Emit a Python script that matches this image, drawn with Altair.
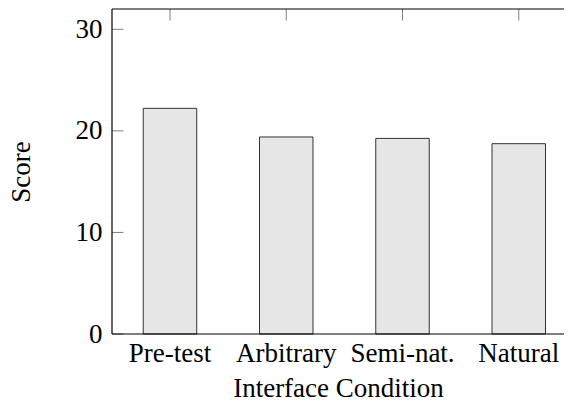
import altair as alt
import pandas as pd

categories = ["Pre-test", "Arbitrary", "Semi-nat.", "Natural"]
scores = [22.22, 19.40, 19.26, 18.74]
y_ticks = [0, 10, 20, 30]

FONT = "Liberation Serif"
FS = 27

bars_df = pd.DataFrame({"cond": categories, "score": scores})
ticks_df = pd.DataFrame({"v": y_ticks})
one_df = pd.DataFrame({"k": [0]})

W, H = 452, 325
TL = 11.5
XT = "Interface Condition"
YT = "Score"

xscale = alt.Scale(domain=categories, paddingInner=0.54, paddingOuter=0.214, align=0.628)
yscale = alt.Scale(domain=[0, 32], nice=False, zero=True)

bars = alt.Chart(bars_df).mark_bar(
    fill="#e6e6e6", stroke="#333333", strokeWidth=1
).encode(
    x=alt.X("cond:N", scale=xscale, sort=categories, title=XT,
            axis=alt.Axis(labelAngle=0, labelAlign="center",
                          labelBaseline="top", domain=False,
                          ticks=False, labelPadding=6, titlePadding=9)),
    y=alt.Y("score:Q", scale=yscale, title=YT,
            axis=alt.Axis(values=y_ticks, domain=False, ticks=False,
                          grid=False, labelPadding=10, titlePadding=40)),
)

top_ticks = alt.Chart(bars_df).mark_rule(color="#808080", strokeWidth=1).encode(
    x=alt.X("cond:N", scale=xscale, sort=categories, title=XT),
    y=alt.value(0), y2=alt.value(TL),
)

left_ticks = alt.Chart(ticks_df).mark_rule(color="#808080", strokeWidth=1).encode(
    y=alt.Y("v:Q", scale=yscale, title=YT),
    x=alt.value(0), x2=alt.value(TL),
)

frame_top = alt.Chart(one_df).mark_rule(color="black", strokeWidth=1.2).encode(
    x=alt.value(0), x2=alt.value(W), y=alt.value(0)
)
frame_bottom = alt.Chart(one_df).mark_rule(color="black", strokeWidth=1.2).encode(
    x=alt.value(0), x2=alt.value(W), y=alt.value(H)
)
frame_left = alt.Chart(one_df).mark_rule(color="black", strokeWidth=1.2).encode(
    x=alt.value(0), y=alt.value(0), y2=alt.value(H)
)

chart = alt.layer(
    bars, top_ticks, left_ticks, frame_top, frame_bottom, frame_left
).properties(
    width=W, height=H,
    autosize=alt.AutoSizeParams(type="none"),
    padding={"left": 104, "top": 1, "right": 0, "bottom": 64},
).configure_view(stroke=None).configure_axis(
    labelFont=FONT, labelFontSize=FS, labelColor="black",
    titleFont=FONT, titleFontSize=FS, titleFontWeight="normal", titleColor="black",
    grid=False,
)

chart.save("out.html", embed_options={"renderer": "svg", "actions": False})
